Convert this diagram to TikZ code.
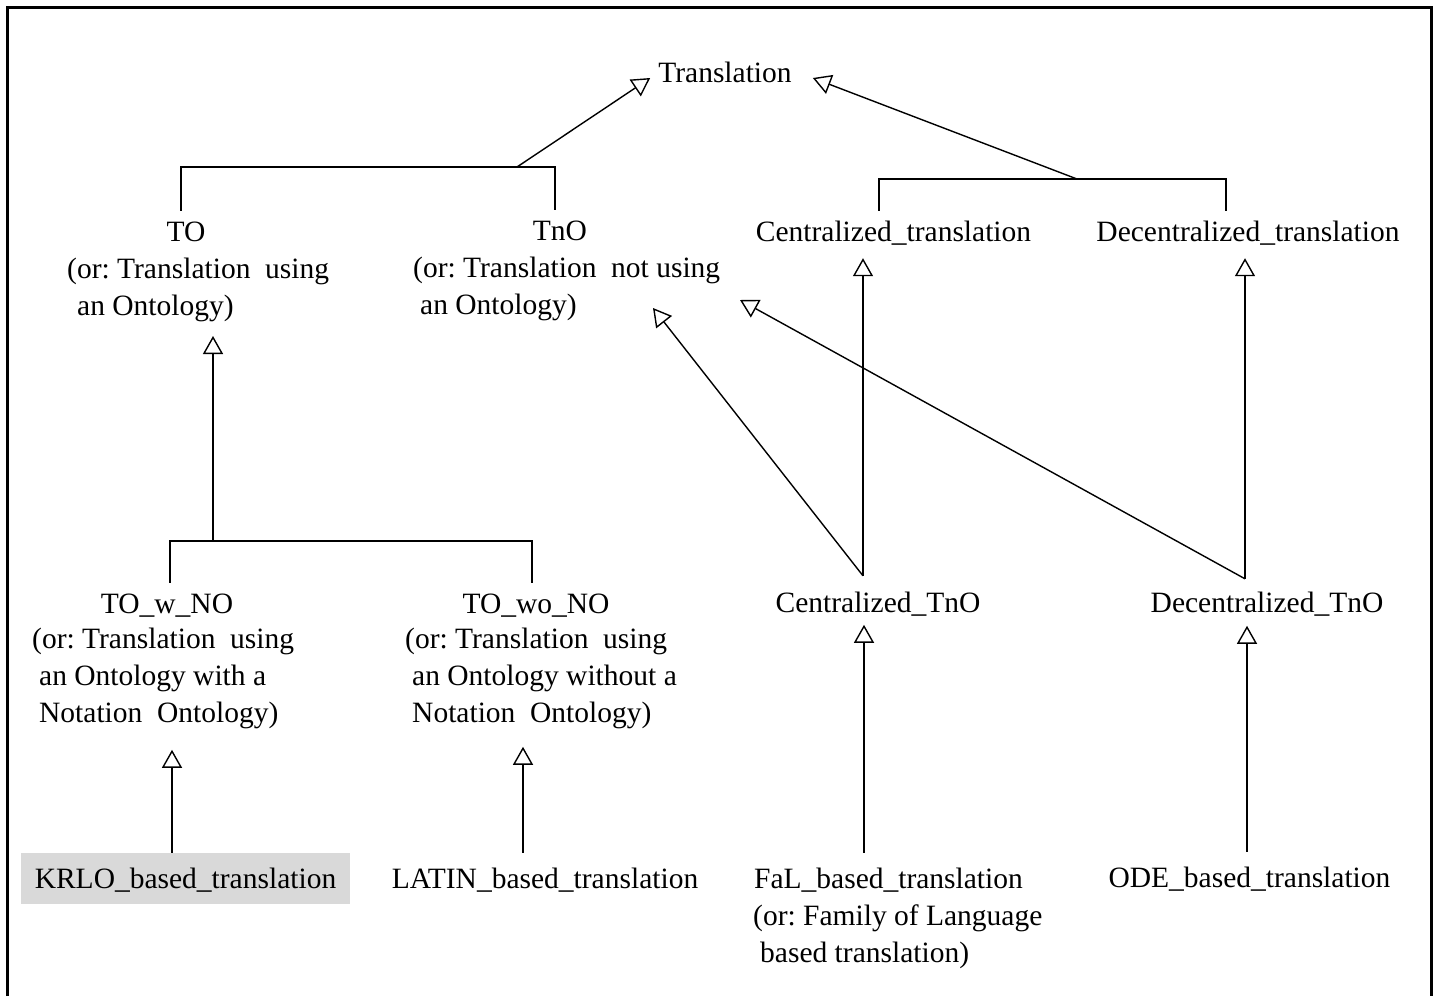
\documentclass[tikz,border=0pt]{standalone}
\usepackage{fontspec}
\setmainfont{Liberation Serif}
\usetikzlibrary{arrows.meta,calc}
\frenchspacing
\definecolor{leafgray}{RGB}{217,217,217}
\newcommand{\desc}[1]{\begin{tabular}[t]{@{}l@{}}#1\end{tabular}}
\newcommand{\ind}[1][7pt]{\hspace*{#1}}
\begin{document}
\begin{tikzpicture}[x=1pt,y=-1pt,
  every node/.style={font=\fontsize{29.5}{37.2}\selectfont, inner xsep=0pt},
  ttl/.style={anchor=base, text height=20pt, text depth=1pt, inner ysep=10pt},
  dsc/.style={anchor=base west, inner sep=0pt},
  leaf/.style={anchor=base, text height=20pt, text depth=1pt, inner ysep=15pt},
  ln/.style={line width=1.4pt},
  inh/.style={ln, -{Triangle[open, length=18pt, width=20pt, line width=1.4pt]}}]
\useasboundingbox (0,0) rectangle (1437,996);
% frame
\draw[line width=3pt] (7,996) -- (7,7) -- (1431,7) -- (1431,996);

% root
\node[ttl] (trans) at (725,82) {Translation};

% second level
\node[ttl] (TO) at (186,241) {TO};
\node[dsc] (TOd) at (67,278) {\desc{(or: Translation~ using\\\ind[10pt]an Ontology)}};
\node[ttl] (TnO) at (560,240) {TnO};
\node[dsc] (TnOd) at (413,277) {\desc{(or: Translation~ not using\\\ind an Ontology)}};
\node[ttl] (CT) at (893.5,241) {Centralized\_translation};
\node[ttl] (DT) at (1248,241) {Decentralized\_translation};

% third level
\node[ttl] (TOw) at (167,613) {TO\_w\_NO};
\node[dsc] (TOwd) at (32,648) {\desc{(or: Translation~ using\\\ind an Ontology with a\\\ind Notation~ Ontology)}};
\node[ttl] (TOwo) at (536,613) {TO\_wo\_NO};
\node[dsc] (TOwod) at (405,648) {\desc{(or: Translation~ using\\\ind an Ontology without a\\\ind Notation~ Ontology)}};
\node[ttl] (CTnO) at (878,612) {Centralized\_TnO};
\node[ttl] (DTnO) at (1267,612) {Decentralized\_TnO};

% leaves
\node[leaf, fill=leafgray, minimum width=329pt] (KRLO) at (185.5,888) {KRLO\_based\_translation};
\node[leaf] (LATIN) at (545,888) {LATIN\_based\_translation};
\node[leaf] (FaL) at (888.5,888) {FaL\_based\_translation};
\node[dsc] (FaLd) at (753,925) {\desc{(or: Family of Language\\\ind based translation)}};
\node[leaf] (ODE) at (1249.5,887) {ODE\_based\_translation};

% TO / TnO specialise Translation
\coordinate (j1) at (517,167);
\draw[ln] ([xshift=-5pt]TO.north) |- (j1) -| ([xshift=-5pt]TnO.north);
\draw[inh] (j1) -- ($(trans.base west)+(-8,-4)$);

% Centralized / Decentralized specialise Translation
\coordinate (j2) at (1077,179);
\draw[ln] ([xshift=-14.5pt]CT.north) |- (j2) -| ([xshift=-22pt]DT.north);
\draw[inh] (j2) -- ($(trans.base east)+(21,-4)$);

% TO_w_NO / TO_wo_NO specialise TO
\coordinate (j3) at (213,541);
\draw[ln] ([xshift=3pt]TOw.north) |- (j3) -| ([xshift=-4pt]TOwo.north);
\draw[inh] (j3) -- ++(0,-205);

% Centralized_TnO: subclass of TnO and Centralized_translation
\coordinate (jc) at ([xshift=-15pt,yshift=6pt]CTnO.north);
\draw[inh] (jc) -- ($(jc |- CT.south)+(0,6)$);
\draw[inh] (jc) -- ($(TnO.base)+(93,68)$);

% Decentralized_TnO: subclass of TnO and Decentralized_translation
\coordinate (jd) at ([xshift=-22pt,yshift=3pt]DTnO.north);
\draw[inh] (jd) -- ($(jd |- DT.south)+(0,6)$);
\draw[inh] (jd) -- ($(TnO.base)+(180,60)$);

% leaf specialisations
\draw[inh] ([xshift=-13.5pt]KRLO.north) -- ++(0,-103);
\draw[inh] ([xshift=-22pt]LATIN.north) -- ++(0,-106);
\draw[inh] ([xshift=-24.5pt]FaL.north) -- ++(0,-228);
\draw[inh] ([xshift=-2.5pt]ODE.north) -- ++(0,-226);
\end{tikzpicture}
\end{document}
